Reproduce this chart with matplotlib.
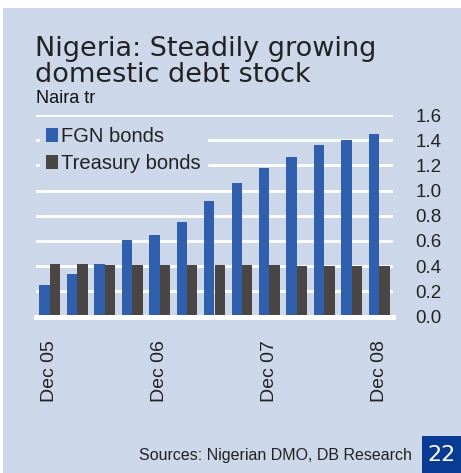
import matplotlib
matplotlib.use("Agg")
import matplotlib.pyplot as plt
from matplotlib.patches import Rectangle, Patch
import numpy as np

# Quarterly data, Dec 05 .. Dec 08 (Naira tr)
quarters = ["Dec 05", "Mar 06", "Jun 06", "Sep 06", "Dec 06", "Mar 07", "Jun 07",
            "Sep 07", "Dec 07", "Mar 08", "Jun 08", "Sep 08", "Dec 08"]
fgn_bonds = [0.25, 0.34, 0.42, 0.61, 0.645, 0.75, 0.92, 1.06, 1.18, 1.27, 1.36, 1.40, 1.45]
treasury_bonds = [0.415, 0.415, 0.41, 0.41, 0.41, 0.41, 0.405, 0.405, 0.405, 0.40, 0.40, 0.40, 0.40]
tick_labels = ["Dec 05", "Dec 06", "Dec 07", "Dec 08"]
tick_idx = [0, 4, 8, 12]
yticks = [0.0, 0.2, 0.4, 0.6, 0.8, 1.0, 1.2, 1.4, 1.6]

BG = "#ccd7e9"
BLUE = "#2f5fad"
GREY = "#4a4646"
TXT = "#222222"

W, H = 461, 473
fig = plt.figure(figsize=(W / 100, H / 100), dpi=100)
fig.patch.set_facecolor("white")

# light blue panel
fig.patches.append(Rectangle((3 / W, 0), 1, (H - 8) / H, transform=fig.transFigure,
                             facecolor=BG, edgecolor="none", zorder=-5))

ax = fig.add_axes([36 / W, (H - 316.5) / H, (393 - 36) / W, (316.5 - 115) / H])
ax.set_zorder(2)
ax.set_facecolor(BG)
for s in ax.spines.values():
    s.set_visible(False)

x = np.arange(len(quarters))
bw = 0.38
ax.bar(x - bw / 2, fgn_bonds, width=bw, color=BLUE, zorder=2, label="FGN bonds")
ax.bar(x + bw / 2, treasury_bonds, width=bw, color=GREY, zorder=2, label="Treasury bonds")

ax.set_xlim(-0.5, len(quarters) - 0.5)
ax.set_ylim(0, 1.6)
ax.set_yticks(yticks)
ax.set_yticklabels([f"{v:.1f}" for v in yticks])
ax.yaxis.tick_right()
ax.grid(axis="y", color="white", linewidth=2, zorder=1)
ax.set_axisbelow(True)
ax.axhline(0, color="white", linewidth=3.6, zorder=3, clip_on=False)
ax.tick_params(axis="y", length=0, pad=16, labelsize=13.5, labelcolor=TXT,
               labelfontfamily="Liberation Sans")

ax.set_xticks(tick_idx)
ax.set_xticklabels(tick_labels, rotation=90, fontsize=14, color=TXT,
                   family="Liberation Sans")
ax.tick_params(axis="x", length=0, pad=17)

handles = [Patch(facecolor=BLUE), Patch(facecolor=GREY)]
leg = ax.legend(handles, ["FGN bonds", "Treasury bonds"], loc="upper left",
                bbox_to_anchor=(0.0, 0.99), frameon=True, fancybox=False,
                facecolor=BG, edgecolor=BG, framealpha=1,
                prop={"family": "Liberation Sans", "size": 14.5},
                handlelength=0.6, handleheight=0.7, handletextpad=0.15,
                labelspacing=0.4, borderpad=0.3, borderaxespad=0.2)
for t in leg.get_texts():
    t.set_color(TXT)
leg.set_zorder(4)

fig.text(35 / W, 1 - 82 / H, "Nigeria: Steadily growing\ndomestic debt stock",
         fontsize=19.5, color=TXT, family="DejaVu Sans", va="baseline",
         linespacing=0.98)
fig.text(36 / W, 1 - 103 / H, "Naira tr", fontsize=13, color="#111111",
         family="Liberation Sans", va="baseline")
fig.text(412 / W, 1 - 460 / H, "Sources: Nigerian DMO, DB Research", fontsize=11.5,
         color=TXT, family="Liberation Sans", ha="right", va="baseline")

fig.patches.append(Rectangle((422 / W, 0), (W - 422) / W, 37 / H, transform=fig.transFigure,
                             facecolor="#0a3b92", edgecolor="none", zorder=1))
fig.text(441.5 / W, 18.5 / H, "22", fontsize=16, color="white", family="DejaVu Sans",
         ha="center", va="center")

fig.savefig("out.png", dpi=100)
